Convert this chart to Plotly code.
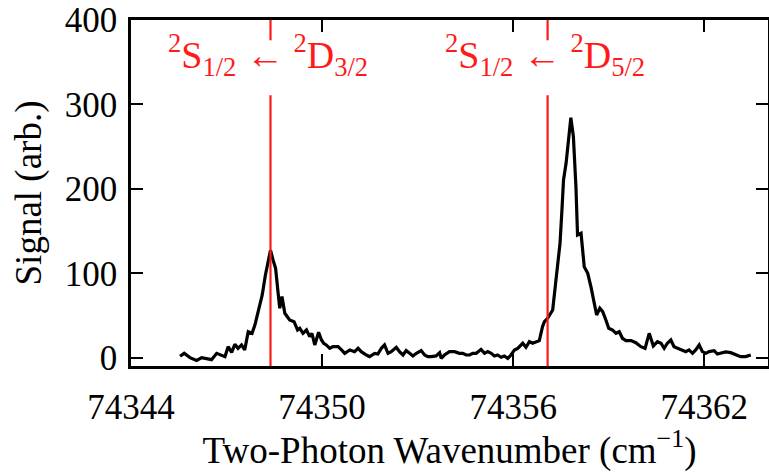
import plotly.graph_objects as go

# Two-photon wavenumber (cm^-1) and signal (arb.)
wavenumber = [
    74345.54, 74345.67, 74345.85, 74346.06, 74346.22, 74346.42, 74346.53, 74346.69,
    74346.84, 74346.95, 74347.05, 74347.16, 74347.26, 74347.36, 74347.47, 74347.57,
    74347.68, 74347.80, 74347.89, 74347.99, 74348.12, 74348.22, 74348.30, 74348.38,
    74348.46, 74348.54, 74348.62, 74348.67, 74348.74, 74348.83, 74348.98, 74349.12,
    74349.23, 74349.30, 74349.40, 74349.51, 74349.61, 74349.68, 74349.77, 74349.89,
    74349.98, 74350.05, 74350.13, 74350.24, 74350.34, 74350.50, 74350.61, 74350.71,
    74350.87, 74351.02, 74351.13, 74351.23, 74351.39, 74351.49, 74351.65, 74351.75,
    74351.86, 74351.96, 74352.07, 74352.17, 74352.33, 74352.43, 74352.54, 74352.64,
    74352.75, 74352.85, 74352.96, 74353.11, 74353.22, 74353.32, 74353.43, 74353.58,
    74353.69, 74353.74, 74353.84, 74354.00, 74354.16, 74354.31, 74354.42, 74354.52,
    74354.63, 74354.73, 74354.84, 74354.99, 74355.10, 74355.20, 74355.31, 74355.41,
    74355.51, 74355.62, 74355.72, 74355.83, 74355.93, 74356.04, 74356.14, 74356.30,
    74356.40, 74356.51, 74356.61, 74356.72, 74356.82, 74356.92, 74356.98, 74357.08,
    74357.19, 74357.24, 74357.32, 74357.40, 74357.47, 74357.53, 74357.58, 74357.66,
    74357.74, 74357.81, 74357.89, 74357.97, 74358.02, 74358.13, 74358.23, 74358.34,
    74358.44, 74358.55, 74358.62, 74358.72, 74358.81, 74358.91, 74359.00, 74359.12,
    74359.23, 74359.33, 74359.43, 74359.54, 74359.70, 74359.85, 74360.01, 74360.14,
    74360.22, 74360.27, 74360.40, 74360.53, 74360.64, 74360.74, 74360.84, 74360.95,
    74361.05, 74361.16, 74361.26, 74361.42, 74361.52, 74361.63, 74361.73, 74361.84,
    74361.94, 74362.05, 74362.15, 74362.31, 74362.41, 74362.52, 74362.67, 74362.83,
    74362.99, 74363.14, 74363.30, 74363.46,
]
signal = [
    2.0, 5.5, 0.4, -3.0, 0.4, -1.2, -2.0, 5.5,
    2.8, 1.6, 13.4, 6.7, 16.2, 11.4, 15.4, 9.5,
    31.1, 29.2, 39.0, 54.8, 74.6, 98.2, 114.0, 127.5,
    116.0, 106.0, 76.5, 58.8, 72.6, 52.9, 45.0, 43.0,
    33.1, 35.1, 29.2, 33.1, 25.2, 29.2, 15.4, 30.4,
    21.3, 17.4, 15.4, 11.4, 13.4, 13.4, 9.5, 5.5,
    9.5, 7.5, 11.4, 7.5, 3.5, 1.6, 5.5, 4.7,
    11.4, 15.4, 5.5, 7.5, 12.6, 7.5, 3.5, 8.7,
    5.5, 2.4, 5.5, 8.7, 3.5, 1.6, 1.6, 2.4,
    6.3, -0.4, 3.5, 7.5, 7.5, 5.5, 5.5, 3.5,
    3.5, 5.5, 5.5, 10.2, 5.5, 7.5, 5.5, 2.4,
    3.5, 0.8, 2.4, -0.4, 3.5, 9.5, 11.4, 17.4,
    12.6, 19.3, 17.4, 19.3, 20.5, 37.0, 43.0, 47.0,
    52.9, 56.8, 84.4, 108.0, 135.7, 175.0, 210.7, 230.4,
    258.0, 284.5, 262.0, 202.7, 145.6, 147.6, 108.0, 100.2,
    84.4, 64.7, 50.9, 58.8, 54.8, 45.0, 35.1, 33.1,
    29.2, 31.1, 23.3, 20.5, 20.5, 18.1, 13.4, 11.4,
    24.9, 29.2, 14.2, 19.3, 17.4, 11.4, 17.4, 21.3,
    13.4, 11.4, 9.5, 7.5, 9.5, 5.5, 9.5, 15.4,
    7.5, 5.5, 7.5, 8.7, 4.7, 5.5, 7.1, 6.3,
    3.5, 1.6, 1.6, 3.5,
]

# Transition markers
transition_positions = [74348.38, 74357.08]
transition_labels = [
    "<sup>2</sup>S<sub>1/2</sub> \u2190 <sup>2</sup>D<sub>3/2</sub>",
    "<sup>2</sup>S<sub>1/2</sub> \u2190 <sup>2</sup>D<sub>5/2</sub>",
]
label_height = 350

x_ticks = [74344, 74350, 74356, 74362]
y_ticks = [0, 100, 200, 300, 400]
x_range = [74344, 74364]
y_range = [-9.5, 400]
# vertical gap left in the marker lines for the labels (data units)
gap_low, gap_high = 311, 376

FONT = "Liberation Serif"
RED = "#ff1a1a"

fig = go.Figure()
fig.add_trace(go.Scatter(
    x=wavenumber, y=signal, mode="lines",
    line=dict(color="black", width=3.2),
    showlegend=False, hoverinfo="skip",
))

for pos, lab in zip(transition_positions, transition_labels):
    for y0, y1 in [(y_range[0], gap_low), (gap_high, y_range[1])]:
        fig.add_shape(type="line", xref="x", yref="y", x0=pos, x1=pos, y0=y0, y1=y1,
                      line=dict(color=RED, width=2.2), layer="above")
    fig.add_annotation(x=pos, y=label_height, xref="x", yref="y", text=lab,
                       showarrow=False, xshift=-3, yshift=7,
                       font=dict(family=FONT, size=38, color=RED))

axis_common = dict(
    showline=True, linecolor="black", linewidth=2.6, mirror="ticks",
    ticks="inside", ticklen=12, tickwidth=2, tickcolor="black",
    showgrid=False, zeroline=False, automargin=False,
    tickfont=dict(family=FONT, size=35, color="black"),
    title_font=dict(family=FONT, size=37, color="black"),
)

fig.update_xaxes(
    range=x_range, tickvals=x_ticks, ticktext=[str(v) for v in x_ticks],
    title_text="Two-Photon Wavenumber (cm<sup>\u22121</sup>)", title_standoff=9,
    ticklabelstandoff=8,
    **axis_common,
)
fig.update_yaxes(
    range=y_range, tickvals=y_ticks, ticktext=[str(v) for v in y_ticks],
    title_text="Signal (arb.)", title_standoff=12, ticklabelstandoff=4,
    **axis_common,
)

fig.update_layout(
    width=769, height=472,
    margin=dict(l=131, r=1, t=20, b=106),
    paper_bgcolor="white", plot_bgcolor="white",
    font=dict(family=FONT, color="black"),
)

fig.write_html("out.html")
